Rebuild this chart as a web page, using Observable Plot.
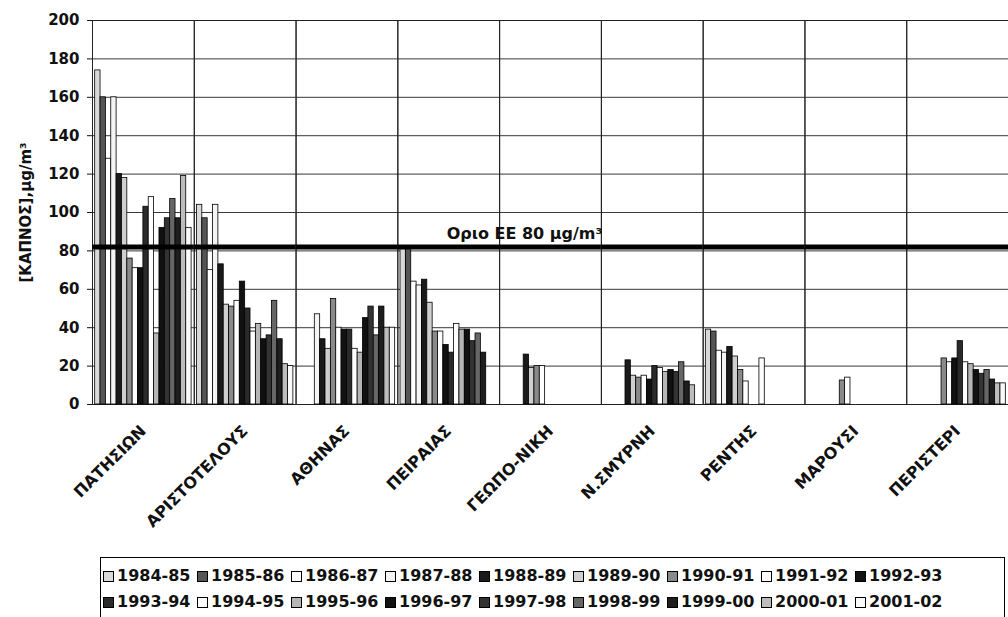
<!DOCTYPE html>
<html><head><meta charset="utf-8">
<script src="https://cdn.jsdelivr.net/npm/d3@7"></script>
<script src="https://cdn.jsdelivr.net/npm/@observablehq/plot@0.6"></script>
<style>
body{margin:0;background:#fff;font-family:"DejaVu Sans",sans-serif;}
#wrap{position:relative;width:1008px;height:617px;overflow:hidden;background:#fff}
#chart{position:absolute;left:0;top:0}
#legend{position:absolute;left:100px;top:557px;width:905px;height:80px;border:1px solid #000;box-sizing:border-box}
.item{position:absolute;font-weight:bold;font-size:16px;line-height:18px;white-space:nowrap;color:#111;display:flex;align-items:center}
.sw{display:inline-block;width:9px;height:9px;border:1px solid #000;margin-right:3px;box-sizing:content-box}
</style></head>
<body><div id="wrap"><div id="chart"></div><div id="legend"></div></div>
<script>
const stations = ["ΠΑΤΗΣΙΩΝ","ΑΡΙΣΤΟΤΕΛΟΥΣ","ΑΘΗΝΑΣ","ΠΕΙΡΑΙΑΣ","ΓΕΩΠΟ-ΝΙΚΗ","Ν.ΣΜΥΡΝΗ","ΡΕΝΤΗΣ","ΜΑΡΟΥΣΙ","ΠΕΡΙΣΤΕΡΙ"];
const seasons = ["1984-85","1985-86","1986-87","1987-88","1988-89","1989-90","1990-91","1991-92","1992-93",
                 "1993-94","1994-95","1995-96","1996-97","1997-98","1998-99","1999-00","2000-01","2001-02"];
const seasonFills = ["#d9d9d9","#555555","#ffffff","#f4f4f4","#1a1a1a","#cfcfcf","#8a8a8a","#ffffff","#111111",
                     "#2a2a2a","#ffffff","#b5b5b5","#111111","#333333","#666666","#1e1e1e","#bdbdbd","#fafafa"];
// values per station, one per season (null = no measurement)
const patision   = [174,160,128,160,120,118,76,71,71,103,108,37,92,97,107,97,119,92];
const aristotelous = [104,97,70,104,73,52,51,54,64,50,38,42,34,36,54,34,21,20];
const athinas    = [null,null,null,47,34,29,55,40,39,39,29,27,45,51,36,51,40,40];
const peiraias   = [81,81,64,62,65,53,38,38,31,27,42,39,39,33,37,27,null,null];
const geoponiki  = [null,null,null,null,26,19,20,20,null,null,null,null,null,null,null,null,null,null];
const nsmyrni    = [null,null,null,null,23,15,14,15,13,20,19,17,18,17,22,12,10,null];
const rentis     = [39,38,28,27,30,25,18,12,null,null,24,null,null,null,null,null,null,null];
const marousi    = [null,null,null,null,null,null,12.5,14,null,null,null,null,null,null,null,null,null,null];
const peristeri  = [null,null,null,null,null,null,24,22,24,33,22,21,18,16,18,13,11,11];
const stationValues = [patision,aristotelous,athinas,peiraias,geoponiki,nsmyrni,rentis,marousi,peristeri];
const yTicks = [0,20,40,60,80,100,120,140,160,180,200];
const limitValue = 82;
const limitLabel = "Οριο ΕΕ 80 μg/m³";
const yLabel = "[ΚΑΠΝΟΣ],μg/m³";

const rows = [];
stationValues.forEach((vals, i) => vals.forEach((v, j) => {
  if (v != null) rows.push({station: stations[i], season: seasons[j], value: v});
}));

const chart = Plot.plot({
  width: 1008, height: 552,
  marginTop: 20, marginBottom: 148, marginLeft: 92, marginRight: 0,
  style: {fontFamily: "DejaVu Sans, sans-serif", fontWeight: "bold", background: "#fff", color: "#111"},
  fx: {domain: stations, padding: 0, round: false, label: null},
  x: {domain: seasons, paddingInner: 0, paddingOuter: 0.5, round: false, axis: null},
  y: {domain: [0, 200], label: null},
  color: {domain: seasons, range: seasonFills},
  marks: [
    Plot.gridY(yTicks, {stroke: "#222", strokeOpacity: 0.9, strokeWidth: 1}),
    Plot.frame({stroke: "#222", strokeWidth: 1}),
    Plot.barY(rows, {fx: "station", x: "season", y: "value", fill: "season", stroke: "#000", strokeWidth: 0.8}),
    Plot.ruleY([limitValue], {stroke: "#000", strokeWidth: 5}),
    Plot.text([limitLabel], {fx: [stations[4]], y: [limitValue], text: d => d, frameAnchor: "left", textAnchor: "middle", dx: 25, dy: -13, fontSize: 16, fontWeight: "bold", fill: "#111"}),
    Plot.axisY(yTicks, {tickSize: 5, tickPadding: 8, fontSize: 15, fontWeight: "bold", label: yLabel, labelAnchor: "center", labelOffset: 72, labelArrow: "none"}),
    Plot.axisFx({anchor: "bottom", tickRotate: -45, tickSize: 0, tickPadding: 24, fontSize: 16, fontWeight: "bold", label: null})
  ]
});
document.getElementById("chart").appendChild(chart);

const legend = document.getElementById("legend");
seasons.forEach((s, i) => {
  const row = Math.floor(i / 9), col = i % 9;
  const el = document.createElement("div");
  el.className = "item";
  el.style.left = (2 + col * 94) + "px";
  el.style.top = (9 + row * 26) + "px";
  const sw = document.createElement("span");
  sw.className = "sw";
  sw.style.background = seasonFills[i];
  el.appendChild(sw);
  el.appendChild(document.createTextNode(s));
  legend.appendChild(el);
});
</script>
</body></html>
